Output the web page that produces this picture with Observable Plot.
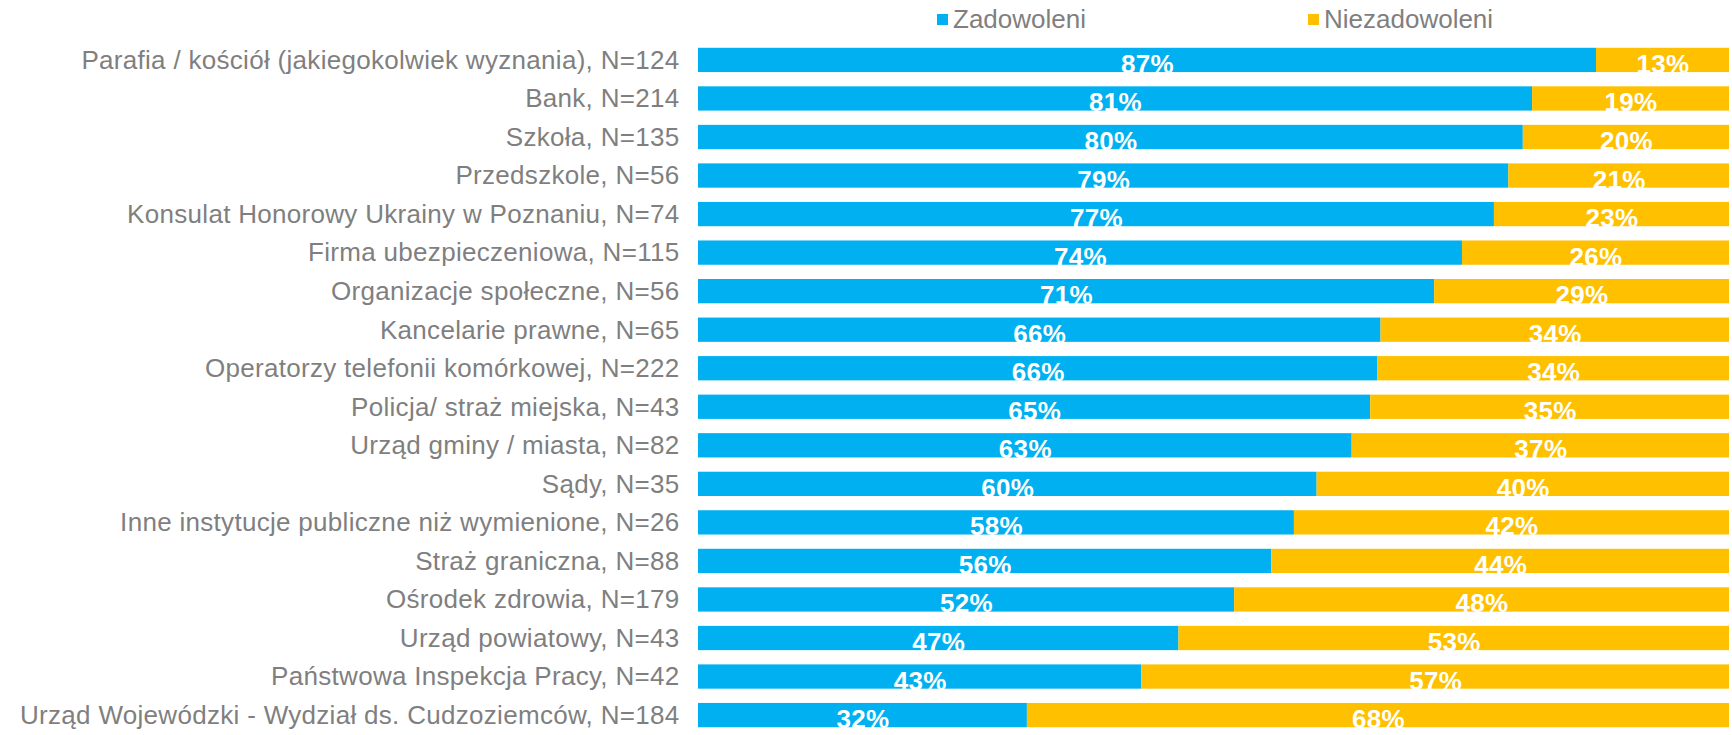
<!DOCTYPE html>
<html>
<head>
<meta charset="utf-8">
<script src="https://cdn.jsdelivr.net/npm/d3@7"></script>
<script src="https://cdn.jsdelivr.net/npm/@observablehq/plot@0.6"></script>
<style>
  html, body { margin: 0; padding: 0; background: #fff; }
  body { width: 1732px; height: 735px; overflow: hidden; font-family: "Liberation Sans", Arial, sans-serif; }
  #legend { position: relative; height: 36px; width: 1732px; }
  .item { position: absolute; top: 4px; height: 30px; display: flex; align-items: center; font-size: 26px; color: #7f7f7f; }
  .swatch { width: 11px; height: 11px; margin-right: 5px; }
</style>
</head>
<body>
<div id="legend"></div>
<div id="chart"></div>
<script>
const categories = [
  "Parafia / kościół (jakiegokolwiek wyznania), N=124",
  "Bank, N=214",
  "Szkoła, N=135",
  "Przedszkole, N=56",
  "Konsulat Honorowy Ukrainy w Poznaniu, N=74",
  "Firma ubezpieczeniowa, N=115",
  "Organizacje społeczne, N=56",
  "Kancelarie prawne, N=65",
  "Operatorzy telefonii komórkowej, N=222",
  "Policja/ straż miejska, N=43",
  "Urząd gminy / miasta, N=82",
  "Sądy, N=35",
  "Inne instytucje publiczne niż wymienione, N=26",
  "Straż graniczna, N=88",
  "Ośrodek zdrowia, N=179",
  "Urząd powiatowy, N=43",
  "Państwowa Inspekcja Pracy, N=42",
  "Urząd Wojewódzki - Wydział ds. Cudzoziemców, N=184"
];
const seriesNames = ["Zadowoleni", "Niezadowoleni"];
const seriesColors = ["#00B0F0", "#FFC000"];
const zadowoleni = [87.1, 80.9, 80.0, 78.6, 77.2, 74.1, 71.4, 66.2, 65.9, 65.2, 63.4, 60.0, 57.8, 55.6, 52.0, 46.6, 43.0, 31.9];
const niezadowoleni = [12.9, 19.1, 20.0, 21.4, 22.8, 25.9, 28.6, 33.8, 34.1, 34.8, 36.6, 40.0, 42.2, 44.4, 48.0, 53.4, 57.0, 68.1];

const rows = [];
categories.forEach((c, i) => rows.push({cat: c, series: seriesNames[0], value: zadowoleni[i]}));
categories.forEach((c, i) => rows.push({cat: c, series: seriesNames[1], value: niezadowoleni[i]}));

// legend
const legend = document.getElementById("legend");
const legendX = [937, 1308];
seriesNames.forEach((s, i) => {
  const it = document.createElement("div");
  it.className = "item";
  it.style.left = legendX[i] + "px";
  it.innerHTML = `<span class="swatch" style="background:${seriesColors[i]}"></span><span>${s}</span>`;
  legend.appendChild(it);
});

const chart = Plot.plot({
  width: 1732,
  height: 699,
  marginLeft: 698,
  marginRight: 3,
  marginTop: 6,
  marginBottom: 2,
  style: {
    fontFamily: '"Liberation Sans", Arial, sans-serif',
    fontSize: "26px",
    color: "#7f7f7f",
    background: "#fff",
    letterSpacing: "0.3px"
  },
  x: {axis: null, domain: [0, 100]},
  y: {domain: categories, label: null, tickSize: 0, tickPadding: 19, paddingInner: 0.37, paddingOuter: 0.15, round: false},
  color: {domain: seriesNames, range: seriesColors},
  marks: [
    Plot.barX(rows, Plot.stackX({x: "value", y: "cat", fill: "series", z: "series"})),
    Plot.text(rows, Plot.stackX({
      x: "value", y: "cat", z: "series",
      text: d => Math.round(d.value) + "%",
      fill: "white",
      fontWeight: "bold",
      fontSize: 26,
      textAnchor: "middle",
      lineAnchor: "bottom",
      dy: 12.5
    }))
  ]
});
document.getElementById("chart").appendChild(chart);
</script>
</body>
</html>
